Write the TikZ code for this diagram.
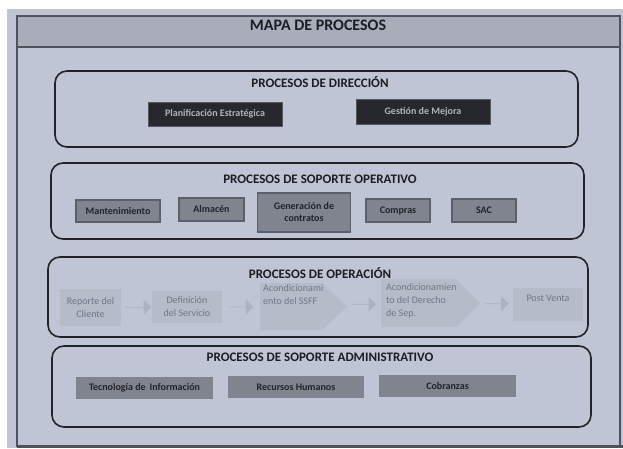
\documentclass[tikz,border=0pt]{standalone}
\usepackage{fontspec}
\setmainfont{Carlito}
\usetikzlibrary{shapes.arrows,calc}

\definecolor{pagebg}{RGB}{192,197,213}
\definecolor{headfill}{RGB}{168,173,185}
\definecolor{frameline}{RGB}{78,82,92}
\definecolor{sectedge}{RGB}{34,35,40}
\definecolor{titleink}{RGB}{28,29,34}
\definecolor{darkfill}{RGB}{38,40,46}
\definecolor{darkink}{RGB}{176,179,188}
\definecolor{midfill}{RGB}{128,132,143}
\definecolor{midedge}{RGB}{92,96,106}
\definecolor{midink}{RGB}{34,35,42}
\definecolor{opfill}{RGB}{182,187,201}
\definecolor{opink}{RGB}{112,118,134}
\definecolor{arrowfill}{RGB}{172,178,194}

\begin{document}
\begin{tikzpicture}[x=1pt,y=-1pt,
  sect/.style={draw=sectedge, line width=1.6pt, rounded corners=12pt},
  secttitle/.style={font=\fontsize{13}{15}\selectfont\bfseries, text=titleink, inner sep=0pt},
  dirbox/.style={fill=darkfill, draw=darkfill!70!pagebg, line width=0.6pt, text=darkink,
    font=\fontsize{10}{12}\selectfont\bfseries, inner sep=0pt},
  supbox/.style={fill=midfill, draw=midedge, line width=1.5pt, text=midink,
    font=\fontsize{10}{12}\selectfont\bfseries, inner sep=0pt, align=center},
  admbox/.style={fill=midfill, text=midink,
    font=\fontsize{10}{12}\selectfont\bfseries, inner sep=0pt},
  opbox/.style={fill=opfill, text=opink, font=\fontsize{10}{13}\selectfont,
    inner sep=0pt, align=center},
  optext/.style={text=opink, font=\fontsize{10}{13}\selectfont, inner sep=0pt,
    align=left, anchor=north west},
  flowarrow/.style={single arrow, fill=arrowfill, draw=none, minimum height=26pt,
    minimum width=15pt, single arrow head extend=3.5pt, single arrow head indent=0pt,
    inner sep=0pt}
]
% page margins and background
\useasboundingbox (0,0) rectangle (623,448);
\fill[white] (0,0) rectangle (623,448);
\fill[pagebg] (7,9) rectangle (623,448);

% outer frame with title band
\fill[headfill] (17,16) rectangle (620,47);
\draw[frameline, line width=1.5pt] (17,16) rectangle (620,446);
\draw[frameline, line width=1.8pt] (17,47) -- (620,47);
\fill[frameline] (17,445) rectangle (623,448);
\node[font=\fontsize{16}{18}\selectfont\bfseries, text=titleink, inner sep=0pt] (maptitle) at (318,25) {MAPA DE PROCESOS};

% --- Procesos de direccion
\draw[sect] (55,71) rectangle (578,147);
\node[secttitle] (dirtitle) at (320,82) {PROCESOS DE DIRECCIÓN};
\node[dirbox, minimum width=134pt, minimum height=24pt] (plan) at (215,114) {Planificación Estratégica};
\node[dirbox, minimum width=134pt, minimum height=25pt] (mejora) at (423,111.5) {Gestión de Mejora};

% --- Procesos de soporte operativo
\draw[sect] (51,163) rectangle (584,239);
\node[secttitle] (suptitle) at (320,179) {PROCESOS DE SOPORTE OPERATIVO};
\node[supbox, minimum width=84pt, minimum height=22pt] (mant) at (118,211) {Mantenimiento};
\node[supbox, minimum width=65pt, minimum height=23pt] (alm) at (211.5,209.5) {Almacén};
\node[supbox, minimum width=93pt, minimum height=39pt] (gen) at (304,212.5) {Generación de\\contratos};
\node[supbox, minimum width=64pt, minimum height=23pt] (comp) at (398,210.5) {Compras};
\node[supbox, minimum width=64pt, minimum height=23pt] (sac) at (484,210.5) {SAC};

% --- Procesos de operacion
\draw[sect] (48,257) rectangle (588,337);
\node[secttitle] (optitle) at (320,273) {PROCESOS DE OPERACIÓN};
\node[opbox, minimum width=61pt, minimum height=37pt] (rep) at (90.5,307.5) {Reporte del\\Cliente};
\node[opbox, minimum width=70pt, minimum height=32pt] (def) at (187,307) {Definición\\del Servicio};
% pentagon steps
\coordinate (sfA) at (260,283);
\coordinate (sfTip) at (347,306.5);
\fill[opfill] (sfA) -- (322,283) -- (sfTip) -- (322,330) -- (260,330) -- cycle;
\node[optext] (ssff) at (263,284) {Acondicionami\\ento del SSFF};
\coordinate (drA) at (381,279);
\coordinate (drTip) at (480,303);
\fill[opfill] (drA) -- (456,279) -- (drTip) -- (456,327) -- (381,327) -- cycle;
\node[optext] (derecho) at (386,283) {Acondicionamien\\to del Derecho\\de Sep.};
\node[opbox, minimum width=70pt, text height=13pt, text depth=20pt] (post) at (548,304.5) {Post Venta};
% arrows between steps
\node[flowarrow] (a1) at ($(rep.east)!0.55!(def.west)$) {};
\node[flowarrow, minimum height=24pt] (a2) at ($(def.east)!0.5!(sfA |- def.west)$) {};
\node[flowarrow, minimum height=24pt] (a3) at ($(sfTip)!0.5!(drA |- 0,302)$) {};
\node[flowarrow, minimum height=24pt] (a4) at ($(drTip)!0.5!(post.west)$) {};

% --- Procesos de soporte administrativo
\draw[sect] (52,346) rectangle (591,427);
\node[secttitle] (admtitle) at (320,357) {PROCESOS DE SOPORTE ADMINISTRATIVO};
\node[admbox, minimum width=137pt, minimum height=22pt] (tec) at (144.5,388) {Tecnología de\, Información};
\node[admbox, minimum width=136pt, minimum height=22pt] (rh) at (296,387) {Recursos Humanos};
\node[admbox, minimum width=137pt, minimum height=22pt] (cob) at (447.5,386) {Cobranzas};
\end{tikzpicture}
\end{document}
